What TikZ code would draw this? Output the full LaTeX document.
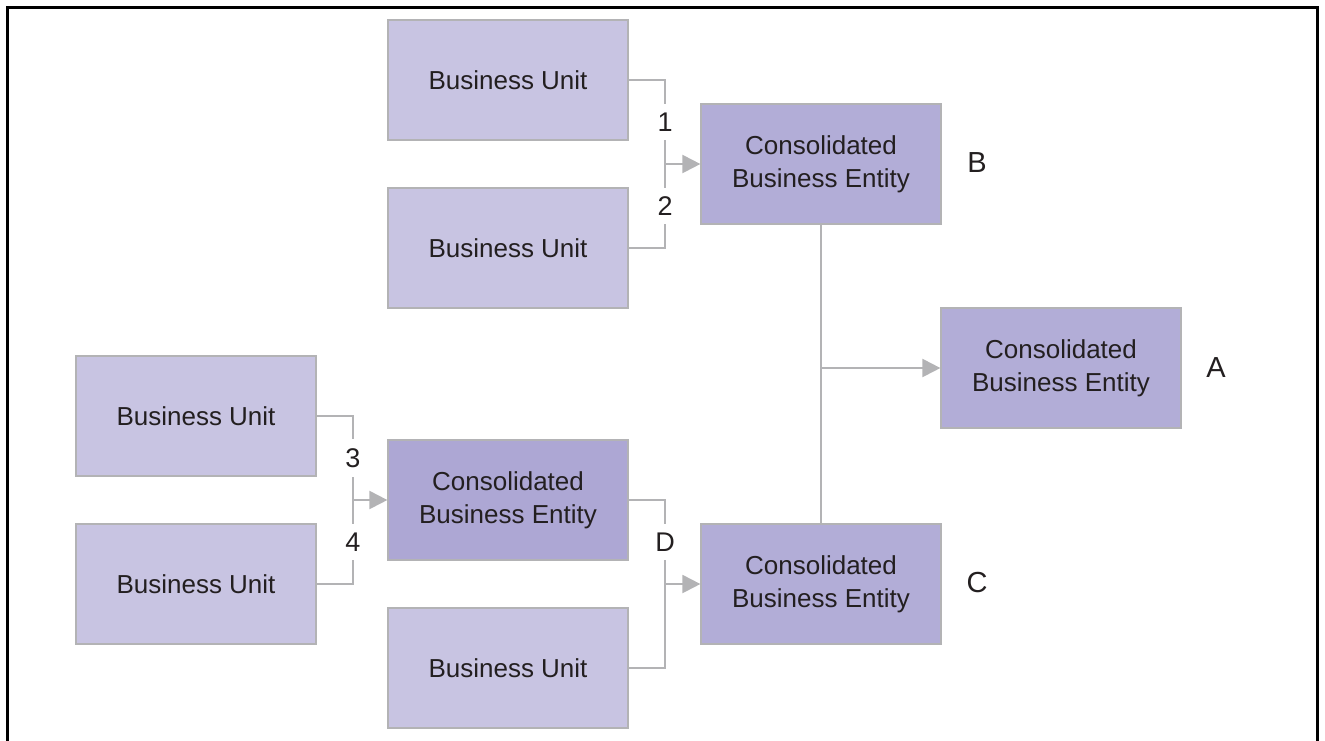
\documentclass[tikz,border=0pt]{standalone}
\usepackage{fontspec}
\setmainfont{Liberation Sans}
\usetikzlibrary{calc, arrows.meta}
\definecolor{unitfill}{HTML}{C8C4E2}
\definecolor{entfill}{HTML}{B2ADD7}
\definecolor{entdark}{HTML}{ADA7D4}
\definecolor{linegray}{HTML}{B3B3B5}
\definecolor{txt}{HTML}{231F20}
\begin{document}
\begin{tikzpicture}[x=0.5pt,y=-0.5pt,
    >={Triangle[length=9pt,width=9pt]},
    box/.style={draw=linegray, line width=0.6pt, minimum width=120pt, minimum height=60pt,
      inner sep=0pt, align=center, text=txt, font=\fontsize{13}{16.5}\selectfont},
    unit/.style={box, fill=unitfill},
    entity/.style={box, fill=entfill},
    num/.style={fill=white, inner xsep=3pt, inner ysep=4.5pt, text=txt, font=\fontsize{13.5}{16}\selectfont},
    tag/.style={text=txt, font=\fontsize{14.5}{16}\selectfont},
    link/.style={draw=linegray, line width=1pt}]
      \useasboundingbox (0,0) rectangle (1325,740);
      \draw[line width=1.5pt] (7,742) -- (7,7) -- (1317,7) -- (1317,742);
      % business units
      \node[unit] (u1) at (508,80) {Business Unit};
      \node[unit] (u2) at (508,248) {Business Unit};
      \node[unit] (u3) at (196,416) {Business Unit};
      \node[unit] (u4) at (196,584) {Business Unit};
      \node[unit] (u5) at (508,668) {Business Unit};
      % consolidated entities
      \node[entity] (b) at (821,164) {Consolidated\\Business Entity};
      \node[entity] (a) at (1061,368) {Consolidated\\Business Entity};
      \node[entity] (c) at (821,584) {Consolidated\\Business Entity};
      \node[entity, fill=entdark] (d) at (508,500) {Consolidated\\Business Entity};
      \node[tag] (lb) at (977,163) {B};
      \node[tag] (la) at (1216,368) {A};
      \node[tag] (lc) at (977,583) {C};
      % junctions
      \coordinate (jb) at (665,164);
      \coordinate (jd) at (353,500);
      \coordinate (jc) at (665,584);
      \coordinate (ja) at (821,368);
      \draw[link] (u1) -| node[num, pos=0.75] {1} (jb);
      \draw[link] (u2) -| node[num, pos=0.75] {2} (jb);
      \draw[link, ->] (jb) -- (b);
      \draw[link] (u3) -| node[num, pos=0.75] {3} (jd);
      \draw[link] (u4) -| node[num, pos=0.75] {4} (jd);
      \draw[link, ->] (jd) -- (d);
      \draw[link] (d) -| node[num, pos=0.75] {D} (jc);
      \draw[link] (u5) -| (jc);
      \draw[link, ->] (jc) -- (c);
      \draw[link] (b) -- (c);
      \draw[link, ->] (ja) -- (a);
    \end{tikzpicture}
\end{document}
